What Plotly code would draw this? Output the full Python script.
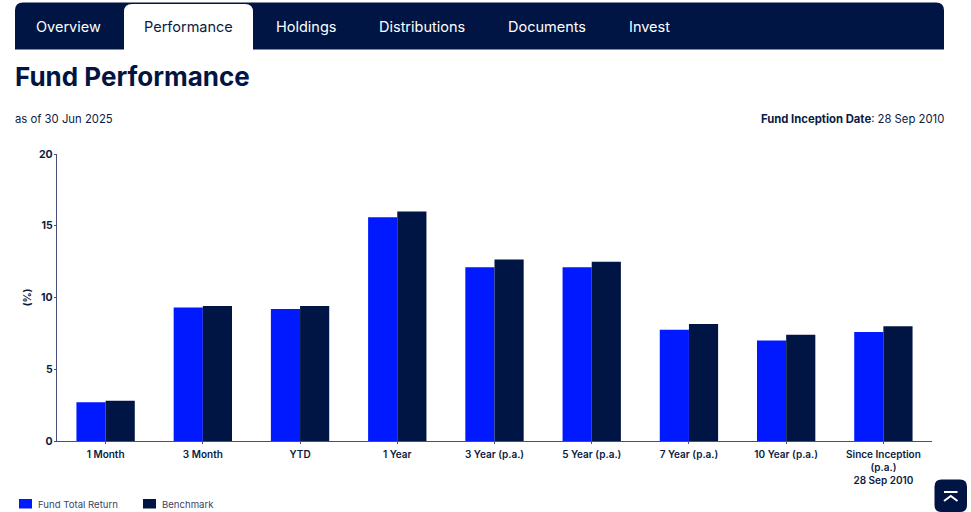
import plotly.graph_objects as go

categories = ["1 Month", "3 Month", "YTD", "1 Year", "3 Year (p.a.)", "5 Year (p.a.)",
              "7 Year (p.a.)", "10 Year (p.a.)", "Since Inception<br>(p.a.)<br>28 Sep 2010"]
fund_total_return = [2.7, 9.3, 9.2, 15.6, 12.1, 12.1, 7.75, 7.0, 7.6]
benchmark = [2.8, 9.4, 9.4, 16.0, 12.65, 12.5, 8.15, 7.4, 8.0]
y_ticks = [0, 5, 10, 15, 20]
nav_labels = ["Overview", "Performance", "Holdings", "Distributions", "Documents", "Invest"]
nav_centers = [68.5, 188, 306, 422, 547, 649.5]

W, H = 971, 512
L, R, T, B = 57, 932, 154, 441
NAVY = "#001543"
BLUE = "#0019FF"
TEXT = "#0B1B42"
AXIS = "#474E78"
FONT = "Inter"

def px(x):
    return (x - L) / (R - L)

def py(y):
    return (B - y) / (B - T)

def pt(x, y):
    return f"{px(x):.5f},{py(y):.5f}"

def rounded_path(x0, y0, x1, y1, tl, tr, br, bl):
    return (f"M{pt(x0 + tl, y0)} L{pt(x1 - tr, y0)} Q{pt(x1, y0)} {pt(x1, y0 + tr)} "
            f"L{pt(x1, y1 - br)} Q{pt(x1, y1)} {pt(x1 - br, y1)} "
            f"L{pt(x0 + bl, y1)} Q{pt(x0, y1)} {pt(x0, y1 - bl)} "
            f"L{pt(x0, y0 + tl)} Q{pt(x0, y0)} {pt(x0 + tl, y0)} Z")

def rect(x0, y0, x1, y1, color):
    return dict(type="rect", xref="paper", yref="paper", x0=px(x0), x1=px(x1), y0=py(y1), y1=py(y0),
                fillcolor=color, line_width=0, layer="above")

fig = go.Figure()
fig.add_bar(name="Fund Total Return", x=categories, y=fund_total_return, marker_color=BLUE, marker_line_width=0)
fig.add_bar(name="Benchmark", x=categories, y=benchmark, marker_color=NAVY, marker_line_width=0)

shapes = [
    dict(type="path", xref="paper", yref="paper", path=rounded_path(15, 2.5, 944, 49.5, 8, 8, 0, 0),
         fillcolor=NAVY, line_width=0, layer="below"),
    dict(type="path", xref="paper", yref="paper", path=rounded_path(124, 4, 253, 50.5, 8, 8, 0, 0),
         fillcolor="#FFFFFF", line_width=0, layer="below"),
    dict(type="path", xref="paper", yref="paper", path=rounded_path(934.5, 479.5, 967, 512, 7, 7, 7, 7),
         fillcolor=NAVY, line_width=0, layer="above"),
    dict(type="path", xref="paper", yref="paper", path=f"M{pt(944, 492)} L{pt(957.5, 492)}",
         line=dict(color="#FFFFFF", width=2), layer="above"),
    dict(type="path", xref="paper", yref="paper",
         path=f"M{pt(944, 501)} L{pt(950.8, 496)} L{pt(957.5, 501)}",
         line=dict(color="#FFFFFF", width=2), layer="above"),
    rect(19, 499, 32, 508.5, BLUE),
    rect(143, 499, 156, 508.5, NAVY),
]

def note(x, y, text, size, color=TEXT, anchor="center", weight=None):
    shift = {"left": -2, "right": 2, "center": 0}[anchor]
    return dict(xref="paper", yref="paper", x=px(x), y=py(y), text=text, showarrow=False, xshift=shift,
                xanchor=anchor, yanchor="middle", font=dict(family=FONT, size=size, color=color, weight=weight))

annotations = []
for label, cx in zip(nav_labels, nav_centers):
    annotations.append(note(cx, 26.5, label, 14.5, color=TEXT if label == "Performance" else "#FFFFFF"))
annotations += [
    note(15, 76.5, "Fund Performance", 26, anchor="left", weight=700, color=NAVY),
    note(15, 119, "as of 30 Jun 2025", 11.3, anchor="left"),
    note(944, 119, "<b>Fund Inception Date</b>: 28 Sep 2010", 11.3, anchor="right"),
    note(37.5, 504, "Fund Total Return", 9.6, anchor="left", color="#3A4466"),
    note(162, 504, "Benchmark", 9.6, anchor="left", color="#3A4466"),
]

fig.update_layout(
    width=W, height=H, autosize=False,
    margin=dict(l=L, r=W - R, t=T, b=H - B, pad=0, autoexpand=False),
    paper_bgcolor="#FFFFFF", plot_bgcolor="#FFFFFF",
    barmode="group", bargap=0.4, bargroupgap=0,
    font=dict(family=FONT, color=TEXT),
    shapes=shapes, annotations=annotations,
    showlegend=False,
    xaxis=dict(type="category", showgrid=False, showline=True, linecolor=AXIS, linewidth=1.4,
               ticks="outside", ticklen=2, tickcolor=AXIS, tickwidth=1, tickangle=0, ticklabelstandoff=2,
               tickfont=dict(family=FONT, size=10, color=TEXT, weight=600), automargin=False),
    yaxis=dict(range=[0, 20], tickvals=y_ticks, showgrid=False, zeroline=False, showline=True,
               linecolor=AXIS, linewidth=1.4, ticks="outside", ticklen=2, tickcolor=AXIS, ticklabelstandoff=-1,
               tickfont=dict(family=FONT, size=10.5, color=TEXT, weight=700), automargin=False,
               title=dict(text="(%)", standoff=5, font=dict(family=FONT, size=10, color=TEXT, weight=700))),
)

fig.write_html("out.html", config=dict(displayModeBar=False),
               post_script="document.body.style.margin='0';document.body.style.overflow='hidden';")
